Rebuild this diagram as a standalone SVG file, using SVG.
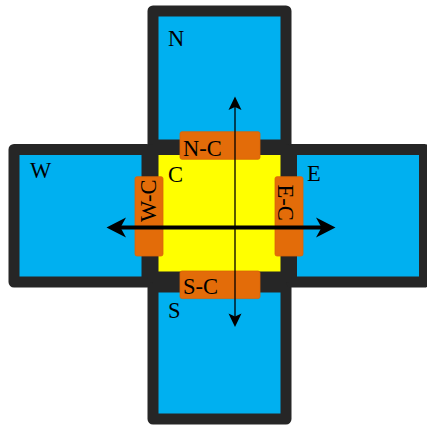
<svg xmlns="http://www.w3.org/2000/svg" width="427" height="425" viewBox="0 0 427 425">
<style>
.cell{fill:#00B0F0;stroke:#262626;stroke-width:11;stroke-linejoin:round}
.center{fill:#FFFF00;stroke:#262626;stroke-width:11;stroke-linejoin:round}
.port{fill:#E36C09;stroke:#D96509;stroke-width:0.8}
.lbl{font-family:"Liberation Serif","Times New Roman",serif;font-size:22.5px;fill:#000}
.ln{stroke:#000;fill:none}
.head{fill:#000}
</style>
<g id="N"><rect class="cell" x="153" y="11" width="133" height="134"/><text class="lbl" x="168" y="46">N</text></g>
<g id="S"><rect class="cell" x="153" y="287" width="133" height="132"/><text class="lbl" x="168" y="318">S</text></g>
<g id="W"><rect class="cell" x="14" y="149.5" width="133" height="132.5"/><text class="lbl" x="30" y="178">W</text></g>
<g id="E"><rect class="cell" x="291.5" y="149.5" width="133" height="132.5"/><text class="lbl" x="307" y="181">E</text></g>
<g id="C"><rect class="center" x="153" y="149.5" width="133" height="127.5"/><text class="lbl" x="168" y="182">C</text></g>
<g id="N-C"><rect class="port" x="180" y="131.7" width="80" height="27.6" rx="2"/><text class="lbl" x="183" y="156.3">N-C</text></g>
<g id="S-C"><rect class="port" x="180" y="271" width="80" height="27.6" rx="2"/><text class="lbl" x="183" y="293.5">S-C</text></g>
<g id="W-C"><rect class="port" x="135" y="176.7" width="28" height="79.3" rx="2"/><text class="lbl" transform="translate(155.5,222) rotate(-90)">W-C</text></g>
<g id="E-C"><rect class="port" x="275" y="176.7" width="28" height="79.3" rx="2"/><text class="lbl" transform="translate(278,184.5) rotate(90)">E-C</text></g>
<g id="connectors">
<line class="ln" x1="235" y1="105" x2="235" y2="318" stroke-width="1.3"/>
<path class="head" d="M235,96.5 L241.5,110 L235,107 L228.5,110 Z"/>
<path class="head" d="M235,327 L241.5,313.5 L235,316.5 L228.5,313.5 Z"/>
<line class="ln" x1="120" y1="227.5" x2="322" y2="227.5" stroke-width="4"/>
<path class="head" d="M106.5,227.5 L126,217.5 L120.5,227.5 L126,237.5 Z"/>
<path class="head" d="M335.5,227.5 L316,217.5 L321.5,227.5 L316,237.5 Z"/>
</g>
</svg>
